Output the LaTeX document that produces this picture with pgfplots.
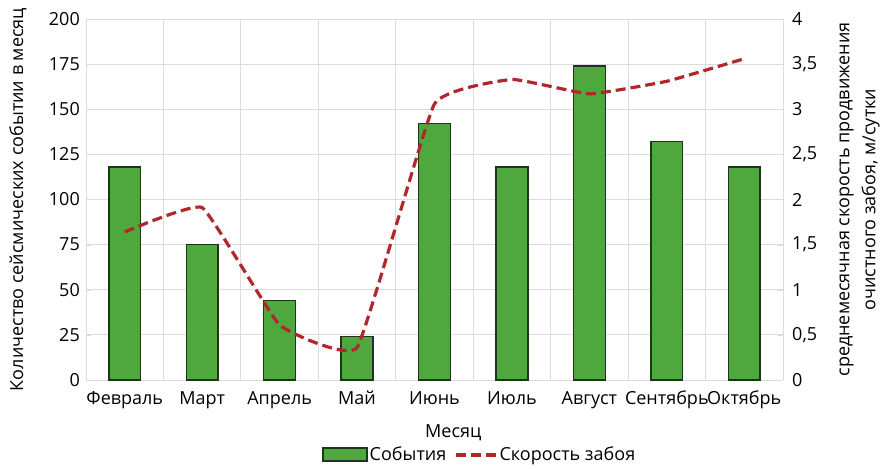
\documentclass[border=0pt]{standalone}
\usepackage{pgfplots}
\pgfplotsset{compat=1.18}
\usepackage{fontspec}
\setmainfont{Open Sans}
\usetikzlibrary{calc}

\definecolor{barfill}{RGB}{78,168,62}
\definecolor{bardraw}{RGB}{30,52,28}
\definecolor{speed}{RGB}{176,40,44}
\definecolor{gridc}{RGB}{220,220,220}

\pgfplotsset{
  barleg/.style={legend image code/.code={\draw[##1] (0pt,-6pt) rectangle (44pt,7pt);}},
  lineleg/.style={legend image code/.code={\draw[##1] (0pt,0pt) -- (40pt,0pt);}},
}

% события в месяц
\pgfplotstableread{
x y
0 118
1 75
2 44
3 24
4 142
5 118
6 174
7 132
8 118
}\events

% скорость забоя, м/сутки
\pgfplotstableread{
x y
0 1.64
1 1.91
2 0.61
3 0.36
4 3.06
5 3.33
6 3.17
7 3.31
8 3.56
}\speedtab

\begin{document}
\fontsize{18}{22}\selectfont
\begin{tikzpicture}
\pgfplotsset{
  every axis/.append style={
    scale only axis, width=697pt, height=361pt,
    xmin=-0.5, xmax=8.5,
    font=\fontsize{18}{22}\selectfont,
    /pgf/number format/assume math mode=true,
    axis line style={gridc},
    tick style={gridc},
    major tick length=5pt,
  },
}
\begin{axis}[
  name=ax,
  axis y line*=left,
  axis x line*=bottom,
  ymin=0, ymax=200,
  ytick={0,25,...,200},
  xtick=data,
  xticklabels={Февраль,Март,Апрель,Май,Июнь,Июль,Август,Сентябрь,Октябрь},
  x tick label style={yshift=-5pt},
  major x tick style={draw=none},
  minor xtick={-0.5,0.5,...,8.5},
  minor x tick style={draw=none},
  xmajorgrids=false, xminorgrids=true, ymajorgrids=true,
  grid style={gridc, line width=0.8pt},
  minor grid style={gridc, line width=0.8pt},
  ylabel={Количество сейсмических событии в месяц},
  ylabel style={at={(axis description cs:-0.0976,0.5)}, anchor=center},
  xlabel={Месяц},
  xlabel style={at={(axis description cs:0.527,-0.147)}, anchor=center},
]
\addplot[ybar, bar width=0.41, fill=barfill, draw=bardraw, line width=1.4pt]
  table[x=x, y=y] {\events};
\end{axis}

\begin{axis}[
  axis y line*=right,
  axis x line=none,
  ymin=0, ymax=4,
  ytick={0,0.5,...,4},
  yticklabel style={/pgf/number format/use comma, xshift=3pt},
  ylabel={среднемесячная скорость продвижения\\очистного забоя, м/сутки},
  ylabel style={at={(axis description cs:1.110,0.5)}, anchor=center, align=center,
    font=\fontsize{18}{26}\selectfont},
  legend style={at={(axis description cs:0.565,-0.208)}, anchor=center,
    draw=none, fill=none, legend columns=2,
    /tikz/every even column/.append style={column sep=6pt},
    font=\fontsize{18}{22}\selectfont},
  legend cell align=left,
]
\addlegendimage{barleg, fill=barfill, draw=bardraw, line width=1.4pt}
\addlegendentry{События}
\addplot[lineleg, speed, line width=3.2pt, dash pattern=on 10pt off 5pt, smooth, tension=0.2]
  table[x=x, y=y] {\speedtab};
\addlegendentry{Скорость забоя}
\end{axis}

\path[use as bounding box] ($(ax.south west)+(-86pt,-88pt)$) rectangle ($(ax.north east)+(110pt,19pt)$);
\end{tikzpicture}
\end{document}
